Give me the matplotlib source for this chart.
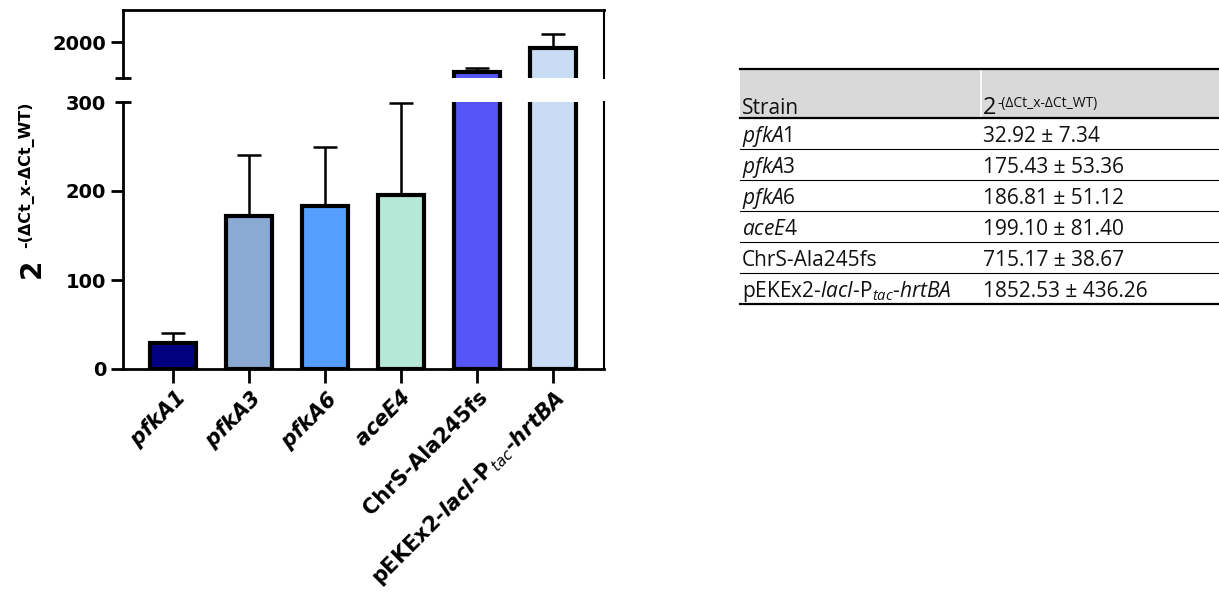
import matplotlib
matplotlib.use('Agg')
import matplotlib.pyplot as plt
from matplotlib.patches import Rectangle
import numpy as np

plt.rcParams['font.family'] = 'DejaVu Sans'
plt.rcParams['mathtext.fontset'] = 'custom'
plt.rcParams['mathtext.rm'] = 'Open Sans'
plt.rcParams['mathtext.it'] = 'Open Sans:italic'
plt.rcParams['mathtext.bf'] = 'DejaVu Sans:bold'
plt.rcParams['mathtext.cal'] = 'DejaVu Sans:bold:italic'
plt.rcParams['mathtext.sf'] = 'DejaVu Sans:italic'

# chart data
strains = ['pfkA1', 'pfkA3', 'pfkA6', 'aceE4', 'ChrS-Ala245fs', 'pEKEx2-lacI-Ptac-hrtBA']
tick_labels = [r'$\mathcal{pfkA1}$', r'$\mathcal{pfkA3}$', r'$\mathcal{pfkA6}$', r'$\mathcal{aceE4}$',
               'ChrS-Ala245fs',
               r'pEKEx2-$\mathcal{lacI}$-$\mathbf{P}_{\mathsf{\,tac}}$-$\mathcal{hrtBA}$']
means = [29.5, 172, 183, 195, 1590, 1926]
sd = [11.5, 68, 66, 104, 50, 193]
bar_colors = ['#000080', '#8AAAD4', '#55A0FF', '#B6E8D8', '#5555F8', '#C8DCF5']

# table data
table_strain = [r'$\mathit{pfkA}$1', r'$\mathit{pfkA}$3', r'$\mathit{pfkA}$6', r'$\mathit{aceE}$4',
                'ChrS-Ala245fs', r'pEKEx2-$\mathit{lacI}$-$\mathrm{P}_{\mathit{tac}}$-$\mathit{hrtBA}$']
table_values = ['32.92 ± 7.34', '175.43 ± 53.36', '186.81 ± 51.12', '199.10 ± 81.40',
                '715.17 ± 38.67', '1852.53 ± 436.26']

W, H = 1219, 599
fig = plt.figure(figsize=(W / 100, H / 100), dpi=100)


def px_axes(x0, y0, x1, y1):
    return fig.add_axes([x0 / W, 1 - y1 / H, (x1 - x0) / W, (y1 - y0) / H])


ax_lo = px_axes(123, 102, 604, 369)
ax_hi = px_axes(123, 10, 604, 78)

x = np.arange(len(strains))
means = np.array(means)
sd = np.array(sd)
for ax, ylim in ((ax_lo, (0, 300)), (ax_hi, (1500, 2450))):
    ax.bar(x, means, width=0.6, color=bar_colors, edgecolor='black', linewidth=3, zorder=2)
    m = (means > ylim[0]) & (means < ylim[1])
    ax.errorbar(x[m], means[m], yerr=[np.zeros(m.sum()), sd[m]], fmt='none', ecolor='black',
                elinewidth=1.8, capsize=8.5, capthick=1.8, zorder=3, clip_on=False)
    ax.set_xlim(-0.66, 5.67)
    ax.set_ylim(*ylim)
    ax.spines['left'].set_linewidth(2)
    ax.spines['right'].set_linewidth(1.5)
    ax.tick_params(axis='y', length=9, width=2, pad=3, labelsize=14)

ax_lo.spines['top'].set_visible(False)
ax_lo.spines['bottom'].set_linewidth(2)
ax_hi.spines['bottom'].set_visible(False)
ax_hi.spines['top'].set_linewidth(2)

ax_lo.set_yticks([0, 100, 200, 300])
ax_lo.set_yticklabels(['0', '100', '200', '300'], fontweight='bold', fontsize=14)
ax_lo.yaxis.get_major_ticks()[-1].tick1line.set_visible(False)
ax_hi.set_yticks([2000])
ax_hi.set_yticklabels(['2000'], fontweight='bold', fontsize=14)
ax_hi.tick_params(axis='x', bottom=False, labelbottom=False)

# break caps on the y axis
ax_hi.plot([0], [0], transform=ax_hi.transAxes, marker='_', ms=11, mew=2, color='black', clip_on=False)
ax_lo.plot([0], [1], transform=ax_lo.transAxes, marker='_', ms=11, mew=2, color='black', clip_on=False)

ax_lo.set_xticks(x)
ax_lo.set_xticklabels(tick_labels, rotation=45, ha='right', va='top', rotation_mode='anchor',
                      fontsize=15, fontweight='bold')
ax_lo.tick_params(axis='x', length=10, width=2, pad=3)

# y label: 2^-(dCt_x - dCt_WT)
fig.text(40 / W, 1 - 278 / H, '2', rotation=90, rotation_mode='anchor', ha='left', va='baseline',
         fontsize=20, fontweight='bold')
fig.text(30 / W, 1 - 248 / H, '-(ΔCt_x-ΔCt_WT)', rotation=90, rotation_mode='anchor', ha='left',
         va='baseline', fontsize=11.5, fontweight='bold')

# table on the right
ax_t = fig.add_axes([0, 0, 1, 1])
ax_t.set_xlim(0, W)
ax_t.set_ylim(H, 0)
ax_t.axis('off')

tx0, tx1, col2 = 740, W, 981
top, head_bot, row_h = 69, 117.5, 31
ax_t.add_patch(Rectangle((tx0, top), tx1 - tx0, head_bot - top, color='#D9D9D9', lw=0))
ax_t.plot([col2, col2], [top, head_bot], color='white', lw=1.2)
n = len(table_strain)
bottom = head_bot + n * row_h
ax_t.plot([tx0, tx1], [top, top], color='black', lw=1.6)
ax_t.plot([tx0, tx1], [head_bot, head_bot], color='black', lw=1.6)
for i in range(1, n):
    yy = head_bot + i * row_h
    ax_t.plot([tx0, tx1], [yy, yy], color='black', lw=0.8)
ax_t.plot([tx0, tx1], [bottom, bottom], color='black', lw=1.6)

tfont = dict(family='Open Sans', fontsize=15, va='baseline', ha='left', color='#111111')
ax_t.text(tx0 + 2, head_bot - 3, 'Strain', **tfont)
two = ax_t.text(col2 + 2, head_bot - 3, '2', family='Open Sans', fontsize=17, va='baseline',
                ha='left', color='#111111')
r = fig.canvas.get_renderer()
bb = two.get_window_extent(renderer=r)
ax_t.text(bb.x1 + 1, head_bot - 11, '-(ΔCt_x-ΔCt_WT)', family='Open Sans', fontsize=10,
          va='baseline', ha='left', color='#111111')
for i, (s, v) in enumerate(zip(table_strain, table_values)):
    yb = head_bot + (i + 1) * row_h - 6.5
    ax_t.text(tx0 + 2, yb, s, **tfont)
    ax_t.text(col2 + 2, yb, v, **tfont)

fig.savefig('out.png', dpi=100)
